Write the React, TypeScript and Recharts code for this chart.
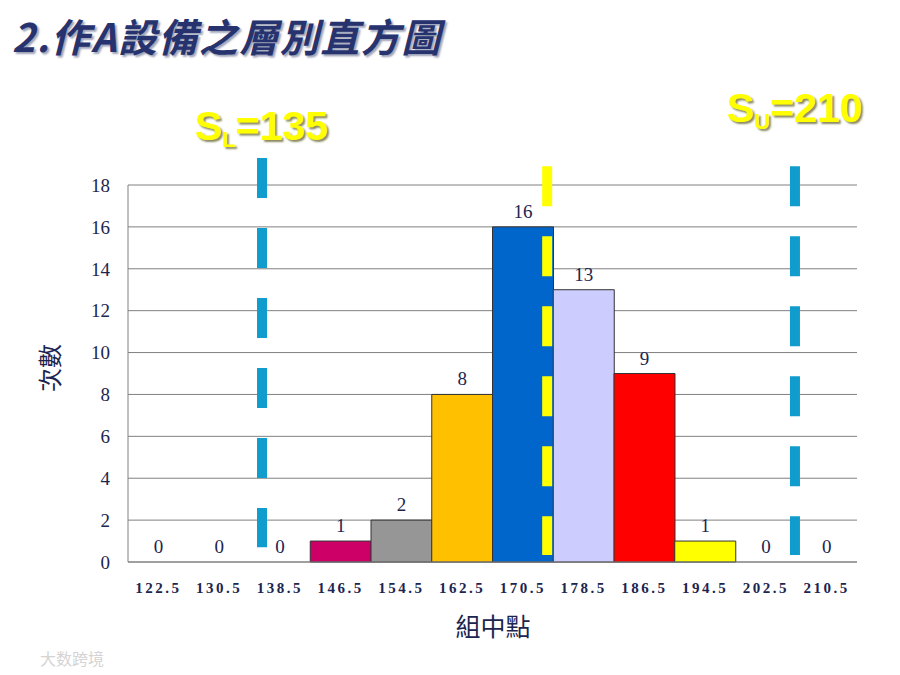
import React from "react";
import {
  ComposedChart,
  Bar,
  Line,
  XAxis,
  YAxis,
  CartesianGrid,
  Cell,
  LabelList,
  ReferenceLine,
} from "recharts";

const midpoints = [
  "122.5", "130.5", "138.5", "146.5", "154.5", "162.5",
  "170.5", "178.5", "186.5", "194.5", "202.5", "210.5",
];
const centers = [122.5, 130.5, 138.5, 146.5, 154.5, 162.5, 170.5, 178.5, 186.5, 194.5, 202.5, 210.5];
const counts = [0, 0, 0, 1, 2, 8, 16, 13, 9, 1, 0, 0];
const barColors = [
  "#ffffff", "#ffffff", "#ffffff", "#cc0066", "#969696", "#ffc000",
  "#0066cc", "#ccccff", "#ff0000", "#ffff00", "#ffffff", "#ffffff",
];
const yTicks = [0, 2, 4, 6, 8, 10, 12, 14, 16, 18];

// hidden numeric axis spanning the class boundaries, used for the spec lines
const numDomain = [118.5, 214.5];
const lowerLine = 136.15;
const upperLine = 206.33;
const centerLine = 173.7;

const chartData = midpoints.map((m, i) => ({ mid: m, center: centers[i], count: counts[i] }));

const serif = "'Liberation Serif', 'DejaVu Serif', 'Noto Sans CJK TC', serif";
const navy = "#1c2550";

const specLabel: React.CSSProperties = {
  position: "absolute",
  fontFamily: "'Liberation Sans', Arial, sans-serif",
  fontWeight: 700,
  color: "#ffff00",
  fontSize: 41,
  textShadow: "2px 2px 2px #8a8a60",
  lineHeight: 1,
  whiteSpace: "nowrap",
};

export default function App() {
  return (
    <div
      style={{
        position: "absolute",
        left: 0,
        top: 0,
        width: 900,
        height: 675,
        background: "#ffffff",
        overflow: "hidden",
      }}
    >
      <div
        style={{
          position: "absolute",
          left: 12,
          top: 12,
          fontFamily: "'Noto Sans CJK TC', 'Liberation Sans', sans-serif",
          fontWeight: 700,
          fontStyle: "italic",
          fontSize: 39,
          letterSpacing: 1.5,
          lineHeight: 1.2,
          color: "#27336e",
          textShadow: "2px 2px 2px #9ea3b8",
          whiteSpace: "nowrap",
        }}
      >
        2.作A設備之層別直方圖
      </div>

      <div style={{ ...specLabel, left: 195, top: 106 }}>
        S<span style={{ fontSize: 22, verticalAlign: "-7px" }}>L</span>=135
      </div>
      <div style={{ ...specLabel, left: 727, top: 88 }}>
        S<span style={{ fontSize: 22, verticalAlign: "-7px" }}>U</span>=210
      </div>

      <div style={{ position: "absolute", left: 0, top: 0 }}>
        <ComposedChart
          width={900}
          height={675}
          data={chartData}
          margin={{ top: 185, right: 43, bottom: 83, left: 68 }}
          barCategoryGap={0}
        >
          <CartesianGrid vertical={false} stroke="#808080" yAxisId="l" xAxisId="cat" />
          <XAxis
            xAxisId="cat"
            dataKey="mid"
            height={30}
            stroke="#808080"
            tickLine={false}
            tickMargin={14}
            interval={0}
            tick={{ fill: navy, fontSize: 15, fontFamily: serif, fontWeight: 600, letterSpacing: 2.5 }}
          />
          <XAxis
            xAxisId="num"
            dataKey="center"
            type="number"
            domain={numDomain}
            allowDataOverflow
            hide
          />
          <YAxis
            yAxisId="l"
            width={60}
            domain={[0, 18]}
            ticks={yTicks}
            stroke="#808080"
            tickLine={false}
            tickSize={8}
            tickMargin={10}
            tick={{ fill: navy, fontSize: 19, fontFamily: serif }}
          />
          <YAxis
            yAxisId="r"
            orientation="right"
            width={0}
            domain={[0, 18]}
            stroke="#808080"
            tick={false}
            tickLine={false}
          />
          <Bar
            dataKey="count"
            xAxisId="cat"
            yAxisId="l"
            stroke="#333333"
            strokeWidth={1}
            isAnimationActive={false}
          >
            {chartData.map((d, i) => (
              <Cell
                key={d.mid}
                fill={barColors[i]}
                stroke={d.count > 0 ? "#333333" : "none"}
              />
            ))}
          </Bar>
          <Line
            dataKey="count"
            xAxisId="cat"
            yAxisId="l"
            stroke="none"
            dot={false}
            activeDot={false}
            isAnimationActive={false}
          >
            <LabelList
              dataKey="count"
              position="top"
              offset={9}
              fill={navy}
              fontSize={19}
              fontFamily={serif}
            />
          </Line>
          <ReferenceLine
            xAxisId="num"
            yAxisId="l"
            segment={[
              { x: lowerLine, y: 19.29 },
              { x: lowerLine, y: 0.71 },
            ]}
            ifOverflow="visible"
            stroke="#109ccc"
            strokeWidth={10}
            strokeDasharray="40 30"
          />
          <ReferenceLine
            xAxisId="num"
            yAxisId="l"
            segment={[
              { x: upperLine, y: 18.9 },
              { x: upperLine, y: 0.33 },
            ]}
            ifOverflow="visible"
            stroke="#109ccc"
            strokeWidth={10}
            strokeDasharray="40 30"
          />
          <ReferenceLine
            xAxisId="num"
            yAxisId="l"
            segment={[
              { x: centerLine, y: 18.9 },
              { x: centerLine, y: 0.33 },
            ]}
            ifOverflow="visible"
            stroke="#ffff00"
            strokeWidth={10}
            strokeDasharray="40 30"
          />
        </ComposedChart>
      </div>

      <div
        style={{
          position: "absolute",
          left: 48,
          top: 368,
          transform: "translate(-50%, -50%) rotate(-90deg)",
          fontFamily: "'Noto Sans CJK TC', serif",
          fontSize: 24,
          color: navy,
          whiteSpace: "nowrap",
        }}
      >
        次數
      </div>
      <div
        style={{
          position: "absolute",
          left: 493,
          top: 625,
          transform: "translate(-50%, -50%)",
          fontFamily: "'Noto Sans CJK TC', serif",
          fontSize: 25,
          color: navy,
          whiteSpace: "nowrap",
        }}
      >
        組中點
      </div>
      <div
        style={{
          position: "absolute",
          left: 40,
          top: 646,
          fontFamily: "'Noto Sans CJK SC', sans-serif",
          fontSize: 16,
          color: "#d4d4d4",
          whiteSpace: "nowrap",
        }}
      >
        大数跨境
      </div>
    </div>
  );
}
